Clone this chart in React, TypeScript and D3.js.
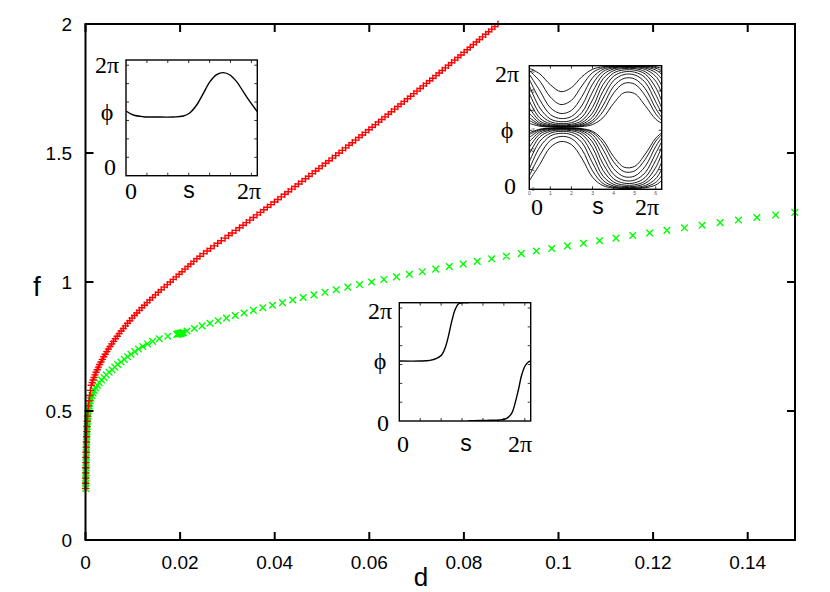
import React from 'react';
import * as d3 from 'd3';

const xTicks = [0, 0.02, 0.04, 0.06, 0.08, 0.1, 0.12, 0.14];
const xTickLabels = ['0', '0.02', '0.04', '0.06', '0.08', '0.1', '0.12', '0.14'];
const yTicks = [0, 0.5, 1, 1.5, 2];
const yTickLabels = ['0', '0.5', '1', '1.5', '2'];

// red "+" series: [d, f]
const redPoints: [number, number][] = [
  [0.00002, 0.20], [0.00003, 0.22], [0.00004, 0.24], [0.00005, 0.26], [0.00006, 0.28], [0.00008, 0.30], [0.0001, 0.32], [0.00012, 0.34], [0.00015, 0.36], [0.00018, 0.38],
  [0.00022, 0.40], [0.00026, 0.42], [0.00031, 0.44], [0.00037, 0.46], [0.00044, 0.48], [0.00052, 0.50], [0.00062, 0.52], [0.00074, 0.54], [0.00088, 0.56], [0.00104, 0.58],
  [0.00122, 0.60], [0.0014, 0.61], [0.00159, 0.62], [0.0018, 0.63], [0.00201, 0.64], [0.00224, 0.65], [0.00248, 0.66], [0.00273, 0.67], [0.00299, 0.68], [0.00327, 0.69],
  [0.00356, 0.70], [0.00386, 0.71], [0.00417, 0.72], [0.0045, 0.73], [0.00484, 0.74], [0.00519, 0.75], [0.00555, 0.76], [0.00593, 0.77], [0.00631, 0.78], [0.00671, 0.79],
  [0.00712, 0.80], [0.00755, 0.81], [0.00799, 0.82], [0.00844, 0.83], [0.00889, 0.84], [0.00937, 0.85], [0.00985, 0.86], [0.01035, 0.87], [0.01086, 0.88], [0.01139, 0.89],
  [0.01192, 0.90], [0.01247, 0.91], [0.01302, 0.92], [0.0136, 0.93], [0.01418, 0.94], [0.01478, 0.95], [0.01538, 0.96], [0.016, 0.97], [0.01663, 0.98], [0.01728, 0.99],
  [0.01793, 1.00], [0.01855, 1.01], [0.01917, 1.02], [0.01979, 1.03], [0.02041, 1.04], [0.02103, 1.05], [0.02165, 1.06], [0.02227, 1.07], [0.0229, 1.08], [0.02355, 1.09],
  [0.0242, 1.10], [0.02495, 1.11], [0.0257, 1.12], [0.02645, 1.13], [0.0272, 1.14], [0.02795, 1.15], [0.0287, 1.16], [0.0295, 1.17], [0.03025, 1.18], [0.031, 1.19],
  [0.0318, 1.20], [0.03255, 1.21], [0.0333, 1.22], [0.034, 1.23], [0.03475, 1.24], [0.0355, 1.25], [0.03625, 1.26], [0.037, 1.27], [0.0377, 1.28], [0.03845, 1.29],
  [0.0392, 1.30], [0.03993, 1.31], [0.04066, 1.32], [0.04139, 1.33], [0.04212, 1.34], [0.04285, 1.35], [0.04358, 1.36], [0.04431, 1.37], [0.04504, 1.38], [0.04577, 1.39],
  [0.0465, 1.40], [0.04721, 1.41], [0.04792, 1.42], [0.04863, 1.43], [0.04934, 1.44], [0.05005, 1.45], [0.05076, 1.46], [0.05147, 1.47], [0.05218, 1.48], [0.05289, 1.49],
  [0.0536, 1.50], [0.0543, 1.51], [0.055, 1.52], [0.0557, 1.53], [0.0564, 1.54], [0.0571, 1.55], [0.0578, 1.56], [0.0585, 1.57], [0.0592, 1.58], [0.0599, 1.59],
  [0.0606, 1.60], [0.06128, 1.61], [0.06196, 1.62], [0.06264, 1.63], [0.06332, 1.64], [0.064, 1.65], [0.06468, 1.66], [0.06536, 1.67], [0.06604, 1.68], [0.06672, 1.69],
  [0.0674, 1.70], [0.06807, 1.71], [0.06874, 1.72], [0.06941, 1.73], [0.07008, 1.74], [0.07075, 1.75], [0.07142, 1.76], [0.07209, 1.77], [0.07276, 1.78], [0.07343, 1.79],
  [0.0741, 1.80], [0.07476, 1.81], [0.07542, 1.82], [0.07608, 1.83], [0.07674, 1.84], [0.0774, 1.85], [0.07806, 1.86], [0.07872, 1.87], [0.07938, 1.88], [0.08004, 1.89],
  [0.0807, 1.90], [0.08135, 1.91], [0.082, 1.92], [0.08265, 1.93], [0.0833, 1.94], [0.08395, 1.95], [0.0846, 1.96], [0.08525, 1.97], [0.0859, 1.98], [0.08655, 1.99],
  [0.0872, 2.00],
];

// green "x" series: [d, f]
const greenPoints: [number, number][] = [
  [0.00005, 0.20], [0.00005, 0.21], [0.00006, 0.22], [0.00006, 0.23], [0.00007, 0.24], [0.00007, 0.25], [0.00008, 0.26], [0.00008, 0.27], [0.00009, 0.28], [0.0001, 0.29],
  [0.00011, 0.30], [0.00012, 0.31], [0.00013, 0.32], [0.00014, 0.33], [0.00015, 0.34], [0.00016, 0.35], [0.00018, 0.36], [0.0002, 0.37], [0.00022, 0.38], [0.00024, 0.39],
  [0.00026, 0.40], [0.00028, 0.41], [0.0003, 0.42], [0.00033, 0.43], [0.00036, 0.44], [0.00039, 0.45], [0.00042, 0.46], [0.00046, 0.47], [0.0005, 0.48], [0.00055, 0.49],
  [0.0006, 0.50], [0.00068, 0.51], [0.00077, 0.52], [0.00088, 0.53], [0.001, 0.54], [0.00115, 0.55], [0.00135, 0.56], [0.00158, 0.57], [0.00185, 0.58], [0.00215, 0.59],
  [0.0025, 0.60], [0.0029, 0.61], [0.0034, 0.62], [0.0039, 0.63], [0.0044, 0.64], [0.005, 0.65], [0.0056, 0.66], [0.0062, 0.67], [0.0068, 0.68], [0.0075, 0.69],
  [0.0082, 0.70], [0.0089, 0.71], [0.0096, 0.72], [0.0104, 0.73], [0.0112, 0.74], [0.0121, 0.75], [0.0131, 0.76], [0.0142, 0.77], [0.0156, 0.78], [0.0174, 0.79],
  [0.0193, 0.797], [0.0195, 0.798], [0.0197, 0.799], [0.0199, 0.800], [0.0201, 0.801], [0.0203, 0.802], [0.0205, 0.803], [0.0207, 0.804],
  [0.02147, 0.81], [0.02303, 0.82], [0.02465, 0.83], [0.02632, 0.84], [0.02804, 0.85], [0.02982, 0.86], [0.03166, 0.87], [0.03354, 0.88], [0.03549, 0.89],
  [0.03749, 0.90], [0.03954, 0.91], [0.04165, 0.92], [0.04381, 0.93], [0.04603, 0.94], [0.0483, 0.95], [0.05063, 0.96], [0.05301, 0.97], [0.05545, 0.98], [0.05794, 0.99],
  [0.06049, 1.00], [0.06309, 1.01], [0.06575, 1.02], [0.06846, 1.03], [0.07122, 1.04], [0.07404, 1.05], [0.07692, 1.06], [0.07985, 1.07], [0.08283, 1.08], [0.08587, 1.09],
  [0.08897, 1.10], [0.09212, 1.11], [0.09532, 1.12], [0.09858, 1.13], [0.10189, 1.14], [0.10526, 1.15], [0.10868, 1.16], [0.11216, 1.17], [0.11569, 1.18], [0.11928, 1.19],
  [0.12292, 1.20], [0.12662, 1.21], [0.13037, 1.22], [0.13418, 1.23], [0.13804, 1.24], [0.14195, 1.25], [0.14592, 1.26], [0.14995, 1.27],
];

const TWO_PI = 6.2832;

// Inset 1 (top-left): phi(s)
const inset1S = [0, 0.351, 0.829, 1.467, 2.264, 2.743, 3.062, 3.381, 3.7, 4.019, 4.337, 4.656, 4.975, 5.294, 5.613, 5.932, 6.283];
const inset1Phi = [3.513, 3.295, 3.205, 3.187, 3.187, 3.241, 3.422, 3.839, 4.472, 5.106, 5.486, 5.595, 5.468, 5.106, 4.563, 4.02, 3.476];

// Inset 3 (bottom): two branches (wrapped mod 2pi)
const inset3SA = [0, 0.989, 1.467, 1.786, 2.025, 2.185, 2.344, 2.504, 2.663, 2.823, 2.982, 3.3];
const inset3PhiA = [3.186, 3.186, 3.221, 3.327, 3.504, 3.858, 4.478, 5.274, 5.894, 6.212, 6.28, 6.283];
const inset3SB = [3.3, 3.46, 4.178, 4.816, 5.135, 5.374, 5.534, 5.693, 5.852, 6.012, 6.171, 6.283];
const inset3PhiB = [0.004, 0.018, 0.035, 0.053, 0.142, 0.407, 0.938, 1.646, 2.442, 2.92, 3.133, 3.186];

// Inset 2 (top-right): family of profiles phi(s)
const inset2S = [0, 0.5, 1.0, 1.5, 2.0, 2.5, 3.0, 3.5, 4.0, 4.5, 5.0, 5.5, 6.0, 6.283];
const inset2Curves: number[][] = [
  [6.155, 5.864, 5.316, 4.963, 5.170, 5.726, 6.101, 6.230, 6.264, 6.272, 6.272, 6.261, 6.220, 6.155],
  [6.035, 5.498, 4.688, 4.309, 4.521, 5.264, 5.931, 6.179, 6.245, 6.262, 6.260, 6.240, 6.159, 6.035],
  [5.846, 5.013, 4.146, 3.854, 4.009, 4.720, 5.670, 6.099, 6.216, 6.245, 6.243, 6.207, 6.063, 5.846],
  [5.597, 4.544, 3.800, 3.596, 3.703, 4.262, 5.343, 5.988, 6.176, 6.221, 6.218, 6.161, 5.932, 5.597],
  [5.269, 4.136, 3.574, 3.437, 3.508, 3.908, 4.945, 5.829, 6.116, 6.187, 6.182, 6.093, 5.743, 5.269],
  [4.894, 3.836, 3.432, 3.339, 3.388, 3.667, 4.544, 5.617, 6.033, 6.139, 6.132, 5.980, 5.498, 4.894],
  [4.491, 3.615, 3.336, 3.274, 3.306, 3.496, 4.166, 5.324, 5.911, 6.067, 6.057, 5.861, 5.171, 4.491],
  [4.147, 3.470, 3.276, 3.232, 3.255, 3.387, 3.880, 4.989, 5.749, 5.970, 5.955, 5.679, 4.812, 4.147],
  [3.868, 3.370, 3.234, 3.204, 3.220, 3.311, 3.664, 4.622, 5.527, 5.834, 5.813, 5.437, 4.446, 3.868],
  [3.650, 3.298, 3.205, 3.185, 3.195, 3.258, 3.503, 4.259, 5.232, 5.639, 5.610, 5.118, 4.105, 3.650],
  [3.498, 3.250, 3.186, 3.171, 3.179, 3.222, 3.393, 3.959, 4.888, 5.386, 5.347, 4.762, 3.836, 3.498],
  [3.353, 3.206, 3.167, 3.159, 3.163, 3.189, 3.290, 3.641, 4.367, 4.910, 4.864, 4.251, 3.562, 3.353],
  [0.437, 1.270, 2.137, 2.429, 2.274, 1.563, 0.613, 0.184, 0.067, 0.038, 0.040, 0.076, 0.220, 0.437],
  [0.686, 1.739, 2.483, 2.687, 2.580, 2.021, 0.940, 0.295, 0.107, 0.062, 0.065, 0.122, 0.351, 0.686],
  [1.014, 2.147, 2.709, 2.846, 2.775, 2.375, 1.338, 0.454, 0.167, 0.096, 0.101, 0.190, 0.540, 1.014],
  [1.389, 2.447, 2.851, 2.944, 2.895, 2.616, 1.739, 0.666, 0.250, 0.144, 0.151, 0.303, 0.785, 1.389],
  [1.792, 2.668, 2.947, 3.009, 2.977, 2.787, 2.117, 0.959, 0.372, 0.216, 0.226, 0.422, 1.112, 1.792],
  [2.136, 2.813, 3.007, 3.051, 3.028, 2.896, 2.403, 1.294, 0.534, 0.313, 0.328, 0.604, 1.471, 2.136],
  [2.415, 2.913, 3.049, 3.079, 3.063, 2.972, 2.619, 1.661, 0.756, 0.449, 0.470, 0.846, 1.837, 2.415],
  [2.633, 2.985, 3.078, 3.098, 3.088, 3.025, 2.780, 2.024, 1.051, 0.644, 0.673, 1.165, 2.178, 2.633],
  [2.785, 3.033, 3.097, 3.112, 3.104, 3.061, 2.890, 2.324, 1.395, 0.897, 0.936, 1.521, 2.447, 2.785],
  [2.868, 3.058, 3.108, 3.119, 3.113, 3.080, 2.948, 2.501, 1.660, 1.123, 1.166, 1.785, 2.601, 2.868],
];
const insetTickValues = [1, 2, 3, 4, 5, 6];
const inset2TickLabels = ['0', '1', '2', '3', '4', '5', '6'];

const W = 830;
const H = 592;
const M = { left: 85.5, right: 795, top: 24, bottom: 540 };

const sans = '"Liberation Sans", Arial, Helvetica, sans-serif';
const serif = '"Liberation Serif", "Times New Roman", serif';

type Box = { x0: number; y0: number; x1: number; y1: number };

function Inset({ box, children, labelPos, smallLabels }: {
  box: Box;
  children: (sx: d3.ScaleLinear<number, number>, sy: d3.ScaleLinear<number, number>) => React.ReactNode;
  labelPos: { yx: number; y2pi: number; yphi: number; y0: number; bx0: number; bs: number; bx2pi: number; by: number };
  smallLabels?: boolean;
}) {
  const sx = d3.scaleLinear().domain([0, TWO_PI]).range([box.x0, box.x1]);
  const sy = d3.scaleLinear().domain([0, TWO_PI]).range([box.y1, box.y0]);
  const clipId = `clip-${Math.round(box.x0)}-${Math.round(box.y0)}`;
  const t = 3;
  return (
    <g>
      <defs>
        <clipPath id={clipId}>
          <rect x={box.x0} y={box.y0} width={box.x1 - box.x0} height={box.y1 - box.y0} />
        </clipPath>
      </defs>
      {insetTickValues.map((v) => (
        <g key={v} stroke="#000" strokeWidth={0.8}>
          <line x1={sx(v)} x2={sx(v)} y1={box.y1} y2={box.y1 - t} />
          <line x1={sx(v)} x2={sx(v)} y1={box.y0} y2={box.y0 + t} />
          <line x1={box.x0} x2={box.x0 + t} y1={sy(v)} y2={sy(v)} />
          <line x1={box.x1} x2={box.x1 - t} y1={sy(v)} y2={sy(v)} />
        </g>
      ))}
      {smallLabels && (
        <g fontFamily={sans} fontSize={5} fill="#555">
          {inset2TickLabels.map((l, i) => (
            <text key={'l' + i} x={box.x0 + 2.5} y={sy(i) + 1.8}>{l}</text>
          ))}
          {inset2TickLabels.map((l, i) => (
            <text key={'b' + i} x={sx(i)} y={box.y1 + 5.5} textAnchor="middle">{l}</text>
          ))}
        </g>
      )}
      <g clipPath={`url(#${clipId})`}>{children(sx, sy)}</g>
      <rect x={box.x0} y={box.y0} width={box.x1 - box.x0} height={box.y1 - box.y0} fill="none" stroke="#000" strokeWidth={1.4} />
      <g fontFamily={serif} fontSize={24} fill="#000" textAnchor="middle">
        <text x={labelPos.yx} y={labelPos.y2pi + 8}>2π</text>
        <text x={labelPos.yx} y={labelPos.yphi + 8}>ϕ</text>
        <text x={labelPos.yx + 3} y={labelPos.y0 + 8}>0</text>
        <text x={labelPos.bx0} y={labelPos.by + 8}>0</text>
        <text x={labelPos.bx2pi} y={labelPos.by + 8}>2π</text>
      </g>
      <text x={labelPos.bs} y={labelPos.by + 7} fontFamily={sans} fontSize={23} textAnchor="middle">s</text>
    </g>
  );
}

export default function App() {
  const x = d3.scaleLinear().domain([0, 0.15]).range([M.left, M.right]);
  const y = d3.scaleLinear().domain([0, 2]).range([M.bottom, M.top]);

  const redPath = redPoints
    .map(([d, f]) => {
      const px = x(d), py = y(f), a = 3.6;
      return `M${px - a},${py}H${px + a}M${px},${py - a}V${py + a}`;
    })
    .join('');
  const greenPath = greenPoints
    .map(([d, f]) => {
      const px = x(d), py = y(f), a = 3.3;
      return `M${px - a},${py - a}L${px + a},${py + a}M${px - a},${py + a}L${px + a},${py - a}`;
    })
    .join('');

  const tickLen = 8;

  const lineOf = (sx: d3.ScaleLinear<number, number>, sy: d3.ScaleLinear<number, number>, s: number[], p: number[]) =>
    d3
      .line<number>()
      .x((_, i) => sx(s[i]))
      .y((v) => sy(v))
      .curve(d3.curveCatmullRom)(p) || '';

  return (
    <svg width={W} height={H} style={{ position: 'absolute', left: 0, top: 0, background: '#fff' }}>
      <rect x={0} y={0} width={W} height={H} fill="#fff" />
      {/* data */}
      <path d={greenPath} stroke="#00ff00" strokeWidth={1.4} fill="none" />
      <path d={redPath} stroke="#ff0000" strokeWidth={1.4} fill="none" />

      {/* frame */}
      <rect x={M.left} y={M.top} width={M.right - M.left} height={M.bottom - M.top} fill="none" stroke="#000" strokeWidth={2} />
      {xTicks.map((t, i) => (
        <g key={'x' + i}>
          <line x1={x(t)} x2={x(t)} y1={M.bottom} y2={M.bottom - tickLen} stroke="#000" strokeWidth={2} />
          <line x1={x(t)} x2={x(t)} y1={M.top} y2={M.top + tickLen} stroke="#000" strokeWidth={2} />
          <text x={x(t)} y={569} fontFamily={sans} fontSize={19} textAnchor="middle">{xTickLabels[i]}</text>
        </g>
      ))}
      {yTicks.map((t, i) => (
        <g key={'y' + i}>
          <line x1={M.left} x2={M.left + tickLen} y1={y(t)} y2={y(t)} stroke="#000" strokeWidth={2} />
          <line x1={M.right} x2={M.right - tickLen} y1={y(t)} y2={y(t)} stroke="#000" strokeWidth={2} />
          <text x={72} y={y(t) + 7} fontFamily={sans} fontSize={19} textAnchor="end">{yTickLabels[i]}</text>
        </g>
      ))}
      <text x={37} y={296} fontFamily={sans} fontSize={28} textAnchor="middle">f</text>
      <text x={421} y={586} fontFamily={sans} fontSize={26} textAnchor="middle">d</text>

      {/* inset 1 */}
      <Inset
        box={{ x0: 126, y0: 60, x1: 257.3, y1: 175.7 }}
        labelPos={{ yx: 107, y2pi: 65, yphi: 112, y0: 167, bx0: 131, bs: 189, bx2pi: 249, by: 191 }}
      >
        {(sx, sy) => <path d={lineOf(sx, sy, inset1S, inset1Phi)} fill="none" stroke="#000" strokeWidth={1.4} />}
      </Inset>

      {/* inset 2 */}
      <Inset
        box={{ x0: 529.3, y0: 65.7, x1: 661.7, y1: 189.3 }}
        labelPos={{ yx: 507, y2pi: 74, yphi: 130, y0: 186, bx0: 537, bs: 598, bx2pi: 647, by: 207 }}
        smallLabels
      >
        {(sx, sy) => (
          <g>
            {inset2Curves.map((c, i) => (
              <path key={i} d={lineOf(sx, sy, inset2S, c)} fill="none" stroke="#000" strokeWidth={0.9} />
            ))}
          </g>
        )}
      </Inset>

      {/* inset 3 */}
      <Inset
        box={{ x0: 399.3, y0: 302.7, x1: 530.7, y1: 421 }}
        labelPos={{ yx: 380, y2pi: 311, yphi: 361, y0: 423, bx0: 403, bs: 466, bx2pi: 520, by: 444 }}
      >
        {(sx, sy) => (
          <g>
            <path d={lineOf(sx, sy, inset3SA, inset3PhiA)} fill="none" stroke="#000" strokeWidth={1.4} />
            <path d={lineOf(sx, sy, inset3SB, inset3PhiB)} fill="none" stroke="#000" strokeWidth={1.4} />
          </g>
        )}
      </Inset>
    </svg>
  );
}
